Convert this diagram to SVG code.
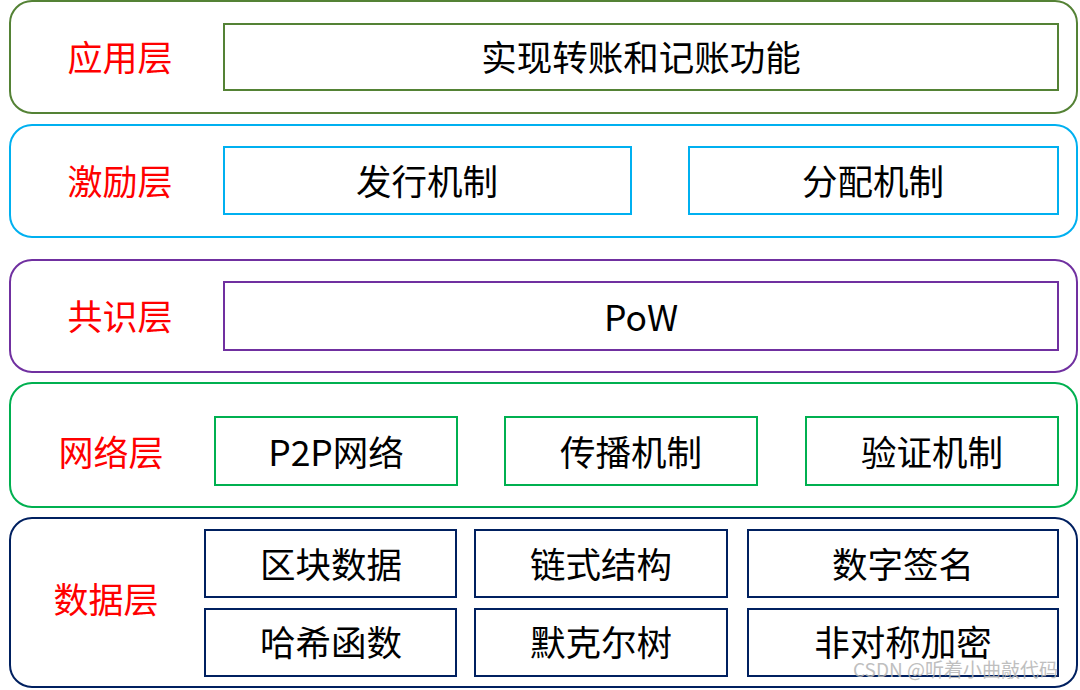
<svg xmlns="http://www.w3.org/2000/svg" width="1080" height="690" viewBox="0 0 1080 690">
<style>
.o{fill:#fff;stroke-width:2}
.b{fill:#fff;stroke-width:2}
.l{font-family:"Noto Sans CJK SC","Noto Sans",sans-serif;font-size:35px;fill:#ff0000;text-anchor:middle;dominant-baseline:central}
.t{font-family:"Noto Sans CJK SC","Noto Sans",sans-serif;font-size:35.5px;fill:#000;text-anchor:middle;dominant-baseline:central}
.wm{font-family:"Noto Sans CJK SC","Noto Sans",sans-serif;font-size:19px;fill:#b4b4b4;opacity:0.85}
</style>
<rect width="1080" height="690" fill="#fff"/>
<g id="app">
<rect class="o" x="10" y="1" width="1067" height="112" rx="22" stroke="#548235"/>
<text class="l" x="120" y="55">应用层</text>
<rect class="b" x="224" y="24" width="834" height="66" stroke="#548235"/>
<text class="t" x="641" y="55">实现转账和记账功能</text>
</g>
<g id="incentive">
<rect class="o" x="10" y="125" width="1067" height="112" rx="22" stroke="#00b0f0"/>
<text class="l" x="120" y="179">激励层</text>
<rect class="b" x="224" y="147" width="407" height="67" stroke="#00b0f0"/>
<text class="t" x="427" y="179">发行机制</text>
<rect class="b" x="689" y="147" width="369" height="67" stroke="#00b0f0"/>
<text class="t" x="873" y="179">分配机制</text>
</g>
<g id="consensus">
<rect class="o" x="10" y="260" width="1067" height="112" rx="22" stroke="#7030a0"/>
<text class="l" x="120" y="314">共识层</text>
<rect class="b" x="224" y="282" width="834" height="68" stroke="#7030a0"/>
<text class="t" x="641" y="315">PoW</text>
</g>
<g id="network">
<rect class="o" x="10" y="383" width="1067" height="124" rx="22" stroke="#00b050"/>
<text class="l" x="111" y="450">网络层</text>
<rect class="b" x="215" y="417" width="242" height="68" stroke="#00b050"/>
<text class="t" x="336" y="450">P2P网络</text>
<rect class="b" x="505" y="417" width="252" height="68" stroke="#00b050"/>
<text class="t" x="631" y="450">传播机制</text>
<rect class="b" x="806" y="417" width="252" height="68" stroke="#00b050"/>
<text class="t" x="932" y="450">验证机制</text>
</g>
<g id="data">
<rect class="o" x="10" y="518" width="1067" height="169" rx="22" stroke="#002060"/>
<text class="l" x="106" y="597">数据层</text>
<rect class="b" x="205" y="530" width="251" height="67" stroke="#002060"/>
<text class="t" x="331" y="562">区块数据</text>
<rect class="b" x="475" y="530" width="252" height="67" stroke="#002060"/>
<text class="t" x="601" y="562">链式结构</text>
<rect class="b" x="748" y="530" width="310" height="67" stroke="#002060"/>
<text class="t" x="903" y="562">数字签名</text>
<rect class="b" x="205" y="609" width="251" height="67" stroke="#002060"/>
<text class="t" x="331" y="640">哈希函数</text>
<rect class="b" x="475" y="609" width="252" height="67" stroke="#002060"/>
<text class="t" x="601" y="640">默克尔树</text>
<rect class="b" x="748" y="609" width="310" height="67" stroke="#002060"/>
<text class="t" x="903" y="640">非对称加密</text>
</g>
<g id="connectors"></g>
<text class="wm" x="853" y="677">CSDN @听着小曲敲代码</text>
</svg>
